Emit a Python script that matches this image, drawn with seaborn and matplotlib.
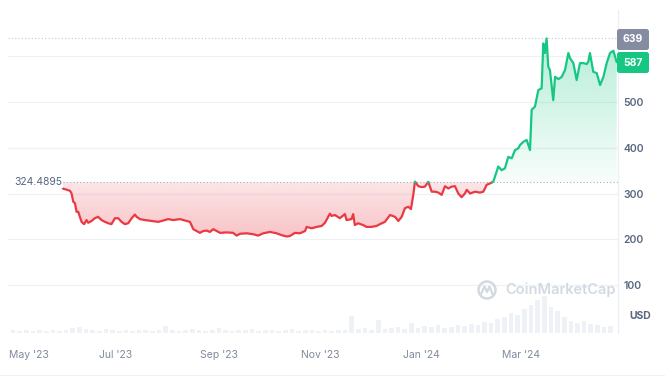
import numpy as np
import pandas as pd
import matplotlib
matplotlib.use("Agg")
import matplotlib.pyplot as plt
import seaborn as sns
from matplotlib.path import Path
from matplotlib.colors import to_rgb
from matplotlib.patches import FancyBboxPatch, Circle

# ---------------- data ----------------
# day offset relative to 2023-07-01
day_offset = [-32, -27.7, -26.7, -25.7, -24.7, -23.7, -22.7, -21.7, -20.7, -19.2,
              -17.7, -16.7, -14.7, -12.7, -10.7, -8.7, -6.6, -4.6, -2.7, -0.6,
              1.4, 3.4, 5.4, 7.4, 9.5, 11.4, 12.5, 14.5, 17.5, 21.5,
              25.5, 29.5, 31.5, 34.5, 38.6, 42.6, 44.6, 46.6, 48.6, 50.6,
              52.6, 54.6, 56.6, 58.6, 60.7, 62.7, 66.7, 70.6, 72.7, 74.7,
              78.7, 82.7, 85.7, 88.7, 92.8, 96.8, 99.8, 102.8, 104.8, 107.8,
              110.8, 113.9, 114.9, 117.9, 120.9, 123.9, 125.9, 128.9, 129.9, 131.9,
              134.9, 137.9, 138.9, 141.9, 142.9, 143.9, 145.9, 148.9, 150.9, 153.9,
              156.9, 159.0, 162.0, 165.1, 168.1, 170.1, 172.1, 174.1, 176.1, 177.7,
              179.1, 180.1, 182.1, 184.1, 186.1, 188.1, 190.2, 192.2, 194.2, 196.2,
              198.2, 200.2, 202.2, 204.2, 206.2, 208.2, 210.2, 211.3, 213.3, 216.3,
              219.3, 221.3, 223.3, 225.3, 227.3, 228.3, 230.3, 232.3, 234.3, 236.3,
              238.4, 240.4, 242.4, 243.4, 245.4, 247.4, 249.4, 250.4, 252.4, 254.4,
              256.4, 257.4, 258.4, 259.4, 260.4, 261.4, 263.4, 264.5, 266.5, 268.5,
              270.5, 272.5, 273.5, 275.5, 277.5, 279.5, 281.5, 283.6, 284.5, 285.5,
              287.5, 289.6, 291.6, 293.6, 295.6, 297.6, 299.6, 301.6]
price = [311, 306, 300, 282, 279, 260, 260, 249, 238, 233,
         242, 236, 240, 246, 249, 242, 238, 235, 233, 246,
         246, 238, 233, 235, 246, 254, 249, 244, 242, 240,
         238, 242, 244, 242, 244, 240, 238, 222, 218, 214,
         218, 219, 216, 222, 218, 214, 215, 214, 208, 212,
         213, 211, 208, 213, 216, 213, 209, 206, 207, 214,
         213, 218, 227, 224, 227, 229, 236, 256, 251, 253,
         246, 255, 242, 244, 255, 231, 235, 231, 227, 227,
         229, 233, 238, 253, 249, 240, 249, 268, 271, 266,
         297, 326, 316, 314, 315, 325.5, 304, 304, 302, 297,
         316, 311, 315, 316, 300, 292, 300, 308, 300, 304,
         302, 304, 319, 322, 326, 337, 359, 351, 355, 380,
         377, 395, 399, 406, 413, 417, 395, 483, 490, 526,
         530, 628, 607, 639, 577, 570, 504, 555, 550, 555,
         570, 607, 596, 585, 548, 585, 585, 583, 588, 607,
         566, 563, 537, 555, 585, 607, 612, 587]

# volume (relative units), 4-day buckets starting at day -64
volume_start = -64
volume_step = 4
volume = [3, 2, 3, 2, 3, 2, 3, 2, 3,
          5, 6, 4,
          3, 2, 4, 3, 2, 3, 2, 3, 3, 2, 3,
          7,
          3, 2, 3, 4, 3, 2, 3, 5, 3, 2, 3, 3, 4, 2, 3, 3, 2, 3, 4, 2, 3, 3, 2, 3, 2,
          3, 3, 17, 4, 5, 3, 13, 4, 5, 6, 4, 10,
          5, 7, 6, 8, 5, 6, 8, 7, 9, 8, 11, 10, 14,
          16, 20, 18, 24, 28, 33, 37, 26, 22, 16,
          12, 10, 12, 9, 8, 6, 7]

base_price = 324.4895
high_price = 639
last_price = 587
tick_days = [-64.5, 0, 62, 123, 184, 244]
tick_labels = ["May '23", "Jul '23", "Sep '23", "Nov '23", "Jan '24", "Mar '24"]
y_ticks = [100, 200, 300, 400, 500]
grid_levels = [100, 200, 300, 400, 500, 600]

# ---------------- style ----------------
sns.set_style("white")
plt.rcParams["font.family"] = ["Inter", "DejaVu Sans"]

GREEN = "#16c784"
RED = "#ea3943"
LABEL = "#58667e"
XLAB = "#808a9d"
GRID = "#eff2f5"

fig = plt.figure(figsize=(6.65, 3.78), dpi=100)
rect = [8 / 665, 45 / 378, 610 / 665, 323 / 378]

XMIN, XMAX = -65.0, 302.4
YMIN, YMAX = -4.9, 701.1

# volume axes (behind)
axv = fig.add_axes(rect)
vol_x = volume_start + volume_step * (np.arange(len(volume)) + 0.5)
axv.bar(vol_x, volume, width=volume_step * 0.7, color="#eef1f5", edgecolor="none")
axv.set_xlim(XMIN, XMAX)
axv.set_ylim(0, 323)
axv.axis("off")

ax = fig.add_axes(rect)
ax.patch.set_alpha(0)

d = np.array(day_offset, dtype=float)
p = np.array(price, dtype=float)

# grid
for g in grid_levels:
    ax.axhline(g, color=GRID, lw=0.9, zorder=0)


def grad_fill(x, y, base, where, color, a_base, a_far, far):
    coll = ax.fill_between(x, y, base, where=where, interpolate=True,
                           facecolor="none", edgecolor="none")
    paths = coll.get_paths()
    if not paths:
        return
    cp = Path.make_compound_path(*paths)
    lo, hi = sorted([base, far])
    n = 256
    rgba = np.zeros((n, 1, 4))
    rgba[..., :3] = to_rgb(color)
    t = np.linspace(0, 1, n)
    if far > base:
        alpha = a_base + (a_far - a_base) * t
    else:
        alpha = a_far + (a_base - a_far) * t
    rgba[:, 0, 3] = alpha
    im = ax.imshow(rgba, extent=[XMIN, XMAX, lo, hi], origin="lower",
                   aspect="auto", zorder=1, interpolation="bilinear")
    im.set_clip_path(cp, transform=ax.transData)


grad_fill(d, p, base_price, p >= base_price, GREEN, 0.03, 0.32, high_price)
grad_fill(d, p, base_price, p <= base_price, RED, 0.13, 0.30, 205)

# split the line into above/below segments
segments = []
xs, ys = [d[0]], [p[0]]
cur = p[0] >= base_price
for i in range(1, len(d)):
    now = p[i] >= base_price
    if now != cur:
        t = (base_price - p[i - 1]) / (p[i] - p[i - 1])
        xc = d[i - 1] + t * (d[i] - d[i - 1])
        xs.append(xc); ys.append(base_price)
        segments.append((cur, xs, ys))
        xs, ys = [xc], [base_price]
        cur = now
    xs.append(d[i]); ys.append(p[i])
segments.append((cur, xs, ys))

rows = []
for k, (up, sx, sy) in enumerate(segments):
    for a, b in zip(sx, sy):
        rows.append({"day": a, "price": b, "side": "up" if up else "down", "seg": k})
df = pd.DataFrame(rows)

sns.lineplot(data=df, x="day", y="price", hue="side", units="seg", estimator=None,
             sort=False, palette={"up": GREEN, "down": RED}, legend=False,
             lw=1.6, ax=ax, zorder=3)

# reference lines
ax.hlines(base_price, d[0], XMAX, colors="#a6b0c3", linestyles=(0, (1, 2)), lw=0.8, zorder=2)
ax.axhline(high_price, color="#c3cad6", ls=(0, (1, 2)), lw=0.8, zorder=2)
ax.text((14 - 8) / 610, base_price, f"{base_price:.4f}", transform=ax.get_yaxis_transform(),
        ha="left", va="center", fontsize=7.5, color=LABEL, zorder=4,
        bbox=dict(boxstyle="square,pad=0.1", fc="white", ec="none"))

# axes formatting
ax.set_xlim(XMIN, XMAX)
ax.set_ylim(YMIN, YMAX)
ax.set_xticks(tick_days)
ax.set_xticklabels(tick_labels)
ax.set_yticks(y_ticks)
ax.set_yticklabels([str(v) for v in y_ticks])
ax.yaxis.tick_right()
ax.tick_params(axis="y", length=0, pad=4, labelsize=7.5, labelcolor=LABEL)
ax.tick_params(axis="x", length=0, pad=12, labelsize=7.5, labelcolor=XLAB)
for lab in ax.get_yticklabels():
    lab.set_fontweight("semibold")
first = ax.get_xticklabels()[0]
first.set_ha("left")
ax.set_xlabel("")
ax.set_ylabel("")
for s in ["top", "left", "bottom"]:
    ax.spines[s].set_visible(False)
ax.spines["right"].set_color("#eceff3")
ax.spines["right"].set_linewidth(0.9)

# price boxes on the right
def price_box(val, ypix_top, color):
    x0, w, h = 6.17, 0.32, 0.21
    y0 = (378 - ypix_top) / 100 - h
    box = FancyBboxPatch((x0, y0), w, h, boxstyle="round,pad=0,rounding_size=0.025",
                         transform=fig.dpi_scale_trans, fc=color, ec="none")
    fig.add_artist(box)
    fig.text((x0 + w / 2) * 100 / 665, (y0 + h / 2) * 100 / 378, str(val),
             ha="center", va="center", color="white", fontsize=7.5, fontweight="bold")

price_box(high_price, 29, "#858ca2")
price_box(last_price, 52, GREEN)

fig.text(629 / 665, 1 - 316 / 378, "USD", ha="left", va="center",
         fontsize=7.5, fontweight="bold", color=LABEL)

# watermark
wm = "#d3d9e3"
fig.add_artist(Circle((4.87, 0.88), 0.085, transform=fig.dpi_scale_trans,
                      fc="none", ec=wm, lw=1.8))
fig.add_artist(plt.Line2D([4.81, 4.845, 4.87, 4.895, 4.925],
                          [0.84, 0.915, 0.86, 0.915, 0.84],
                          transform=fig.dpi_scale_trans, color=wm, lw=1.6))
fig.text(505 / 665, 1 - 290 / 378, "CoinMarketCap", ha="left", va="center",
         fontsize=10.5, fontweight="semibold", color=wm)

# bottom border line
fig.add_artist(plt.Line2D([0, 1], [3 / 378, 3 / 378], transform=fig.transFigure,
                          color="#eff2f5", lw=0.8))

fig.savefig("out.png", dpi=100)
